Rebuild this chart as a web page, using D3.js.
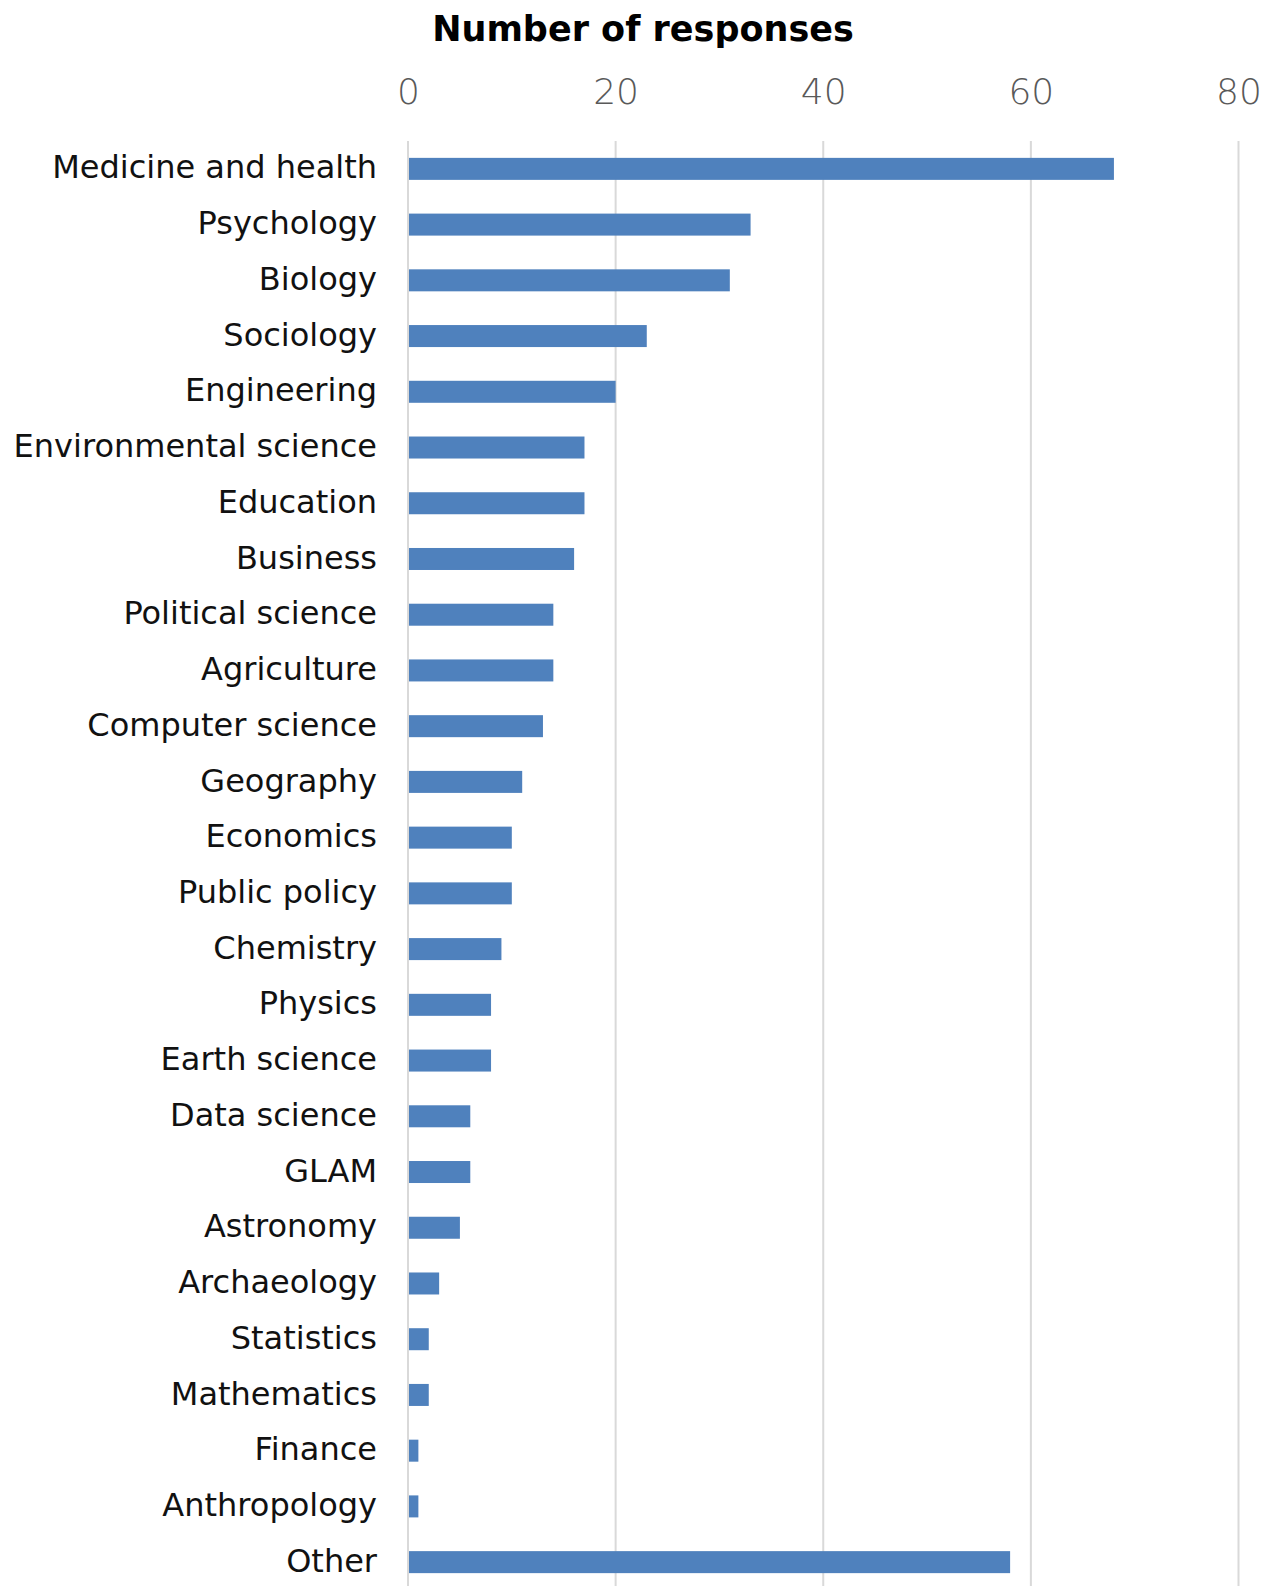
<!DOCTYPE html>
<html>
<head>
<meta charset="utf-8">
<script src="https://cdn.jsdelivr.net/npm/d3@7"></script>
<style>
  html, body { margin: 0; padding: 0; background: #fff; }
  svg { display: block; }
</style>
</head>
<body>
<svg id="chart" width="1274" height="1586"></svg>
<script>
const categories = ["Medicine and health","Psychology","Biology","Sociology","Engineering","Environmental science","Education","Business","Political science","Agriculture","Computer science","Geography","Economics","Public policy","Chemistry","Physics","Earth science","Data science","GLAM","Astronomy","Archaeology","Statistics","Mathematics","Finance","Anthropology","Other"];
const values = [68,33,31,23,20,17,17,16,14,14,13,11,10,10,9,8,8,6,6,5,3,2,2,1,1,58];
const tickValues = [0,20,40,60,80];
const axisTitle = "Number of responses";

const data = categories.map((c,i)=>({cat:c, val:values[i]}));
const svg = d3.select("#chart");
const fontFam = "'DejaVu Sans', 'Open Sans', sans-serif";

const x = d3.scaleLinear().domain([0,80]).range([408,1238.5]);
const y = d3.scaleBand().domain(categories).range([141,1590]).paddingInner(0.6).paddingOuter(0.3);

// gridlines
svg.append("g").selectAll("line").data(tickValues).join("line")
  .attr("x1", d=>x(d)).attr("x2", d=>x(d))
  .attr("y1", 141).attr("y2", 1586)
  .attr("stroke", "#d9d9d9").attr("stroke-width", 2);

// top axis labels
const axis = d3.axisTop(x).tickValues(tickValues).tickSize(0).tickPadding(0).tickFormat(d3.format("d"));
const ag = svg.append("g").attr("transform","translate(0,104)").call(axis);
ag.select(".domain").remove();
ag.selectAll("text").attr("font-family", fontFam).attr("font-size", 36).attr("font-weight", 300).attr("fill","#595959").attr("dy", 0);

// bars
svg.append("g").selectAll("rect").data(data).join("rect")
  .attr("x", x(0)+1).attr("y", d=>y(d.cat)+ (y.bandwidth()-22)/2)
  .attr("width", d=>x(d.val)-x(0)-1).attr("height", 22)
  .attr("fill", "#4f81bd");

// category labels
const yAxis = d3.axisLeft(y).tickSize(0).tickPadding(0);
const yg = svg.append("g").attr("transform","translate(377,0)").call(yAxis);
yg.select(".domain").remove();
yg.selectAll("text").attr("font-family", fontFam).attr("font-size", 32).attr("fill","#111").attr("dy","0.3em");

// title
svg.append("text").attr("x", 643).attr("y", 41).attr("text-anchor","middle")
  .attr("font-family", fontFam).attr("font-weight","bold").attr("font-size", 35)
  .attr("fill","#000").text(axisTitle);
</script>
</body>
</html>
